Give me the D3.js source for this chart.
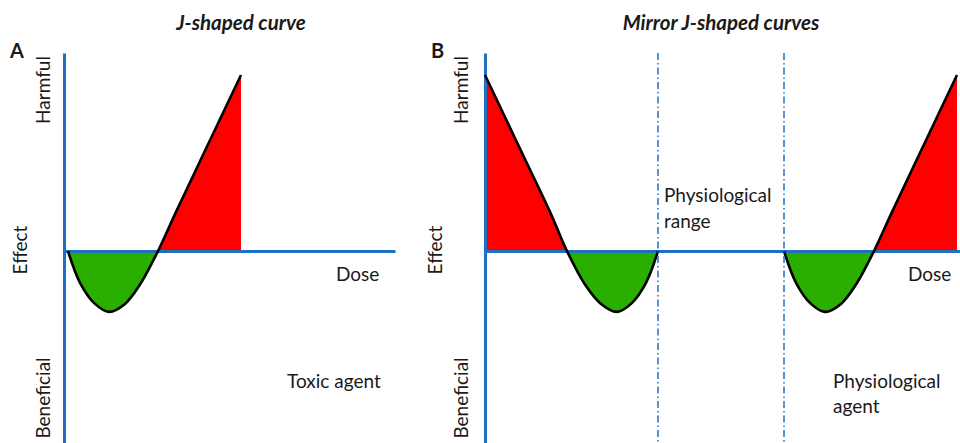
<!DOCTYPE html>
<html>
<head>
<meta charset="utf-8">
<script src="https://cdn.jsdelivr.net/npm/d3@7"></script>
<style>
  body { margin: 0; background: #fff; }
  text { font-family: Lato, "Noto Sans", sans-serif; fill: #1a1a1a; }
  .title { font-weight: bold; font-style: italic; font-size: 20.5px; }
  .letter { font-weight: bold; font-size: 20px; }
  .lbl { font-size: 19px; }
  .axis path { stroke: #1f70c1; stroke-width: 3px; }
</style>
</head>
<body>
<div id="vis"></div>
<script>
// J-shaped curve (panel A), dose in arbitrary units, effect: harmful > 0 > beneficial
const J_DOSE   = [0.4, 1.6, 3.1, 4.5, 6.1, 7.6, 9.4, 11.1, 13.6, 17.7];
const J_EFFECT = [0, -0.18, -0.30, -0.345, -0.30, -0.19, 0, 0.21, 0.51, 1.0];

// mirror J-shaped curves (panel B)
const LEFT_DOSE    = [0, 4.1, 6.6, 8.2, 10.0, 11.6, 13.2, 14.6, 16.1, 17.3];
const LEFT_EFFECT  = [1.0, 0.51, 0.21, 0, -0.19, -0.30, -0.345, -0.30, -0.18, 0];
const RIGHT_DOSE   = [29.9, 31.1, 32.6, 34.0, 35.6, 37.1, 38.9, 40.6, 43.1, 47.2];
const RIGHT_EFFECT = [0, -0.18, -0.30, -0.345, -0.30, -0.19, 0, 0.21, 0.51, 1.0];

// physiological range limits (panel B)
const PHYSIO_RANGE = [17.3, 29.9];

const Y_LABELS = ["Harmful", "Effect", "Beneficial"];

const FRAME_WIDTH = 960;
const FRAME_HEIGHT = 443;

const GREEN = "#2aae00";
const RED = "#ff0000";

const SVG = d3.select("#vis")
              .append("svg")
                .attr("width", FRAME_WIDTH)
                .attr("height", FRAME_HEIGHT);

// same effect scale for both panels
const Y_SCALE = d3.scaleLinear()
                    .domain([-1.09, 1.125])
                    .range([443, 53]);

function zip(xs, ys) {
  return xs.map((x, i) => ({dose: x, effect: ys[i]}));
}

function drawPanel(id, xRange, xDomain, curves, letter, title, titleX, labelX) {

  const X_SCALE = d3.scaleLinear().domain(xDomain).range(xRange);
  const G = SVG.append("g");
  const Y0 = Y_SCALE(0);

  // clip regions above (harmful) and below (beneficial) the dose axis
  const defs = G.append("defs");
  defs.append("clipPath").attr("id", id + "-up")
      .append("rect").attr("x", 0).attr("y", 0)
      .attr("width", FRAME_WIDTH).attr("height", Y0);
  defs.append("clipPath").attr("id", id + "-down")
      .append("rect").attr("x", 0).attr("y", Y0)
      .attr("width", FRAME_WIDTH).attr("height", FRAME_HEIGHT - Y0);

  const area = d3.area()
                  .x((d) => X_SCALE(d.dose))
                  .y0(Y0)
                  .y1((d) => Y_SCALE(d.effect))
                  .curve(d3.curveCatmullRom.alpha(0.5));

  const line = d3.line()
                  .x((d) => X_SCALE(d.dose))
                  .y((d) => Y_SCALE(d.effect))
                  .curve(d3.curveCatmullRom.alpha(0.5));

  curves.forEach((c) => {
    G.append("path").datum(c).attr("d", area)
      .attr("fill", RED).attr("clip-path", "url(#" + id + "-up)");
    G.append("path").datum(c).attr("d", area)
      .attr("fill", GREEN).attr("clip-path", "url(#" + id + "-down)");
  });

  // axes: plain lines without ticks
  G.append("g").attr("class", "axis")
      .attr("transform", "translate(0," + Y0 + ")")
      .call(d3.axisBottom(X_SCALE).tickValues([]).tickSizeOuter(0));
  G.append("g").attr("class", "axis")
      .attr("transform", "translate(" + xRange[0] + ",0)")
      .call(d3.axisLeft(Y_SCALE).tickValues([]).tickSizeOuter(0));

  // curves on top
  curves.forEach((c) => {
    G.append("path").datum(c).attr("d", line)
      .attr("fill", "none").attr("stroke", "#000")
      .attr("stroke-width", 2.6).attr("stroke-linejoin", "round");
  });

  // labels
  G.append("text").attr("class", "letter").attr("x", xRange[0] - 54).attr("y", 58).text(letter);
  G.append("text").attr("class", "title").attr("x", titleX).attr("y", 30)
      .attr("text-anchor", "middle").text(title);

  G.append("text").attr("class", "lbl").attr("text-anchor", "middle")
      .attr("transform", "translate(" + labelX[0] + ",90) rotate(-90)").text(Y_LABELS[0]);
  G.append("text").attr("class", "lbl").attr("text-anchor", "middle")
      .attr("transform", "translate(" + labelX[1] + ",250) rotate(-90)").text(Y_LABELS[1]);
  G.append("text").attr("class", "lbl").attr("text-anchor", "middle")
      .attr("transform", "translate(" + labelX[0] + ",398) rotate(-90)").text(Y_LABELS[2]);

  return {G: G, X_SCALE: X_SCALE};
}

// Panel A
const A = drawPanel("a", [64, 395], [0, 33.1], [zip(J_DOSE, J_EFFECT)],
                    "A", "J-shaped curve", 241, [50, 27]);
A.G.append("text").attr("class", "lbl").attr("x", 336).attr("y", 281).text("Dose");
A.G.append("text").attr("class", "lbl").attr("x", 287).attr("y", 388).text("Toxic agent");

// Panel B
const B = drawPanel("b", [485, 960], [0, 47.5],
                    [zip(LEFT_DOSE, LEFT_EFFECT), zip(RIGHT_DOSE, RIGHT_EFFECT)],
                    "B", "Mirror J-shaped curves", 721, [468, 442]);

// dash-dot lines for the physiological range
B.G.selectAll(".range")
    .data(PHYSIO_RANGE)
    .enter()
    .append("line")
      .attr("x1", (d) => B.X_SCALE(d)).attr("x2", (d) => B.X_SCALE(d))
      .attr("y1", 53).attr("y2", FRAME_HEIGHT)
      .attr("stroke", "#1f70c1").attr("stroke-width", 1.5)
      .attr("stroke-dasharray", "7,3,1.5,3");

B.G.append("text").attr("class", "lbl").attr("x", 908).attr("y", 281).text("Dose");
B.G.append("text").attr("class", "lbl").attr("x", 664).attr("y", 202).text("Physiological");
B.G.append("text").attr("class", "lbl").attr("x", 664).attr("y", 228).text("range");
B.G.append("text").attr("class", "lbl").attr("x", 833).attr("y", 388).text("Physiological");
B.G.append("text").attr("class", "lbl").attr("x", 833).attr("y", 413).text("agent");
</script>
</body>
</html>
